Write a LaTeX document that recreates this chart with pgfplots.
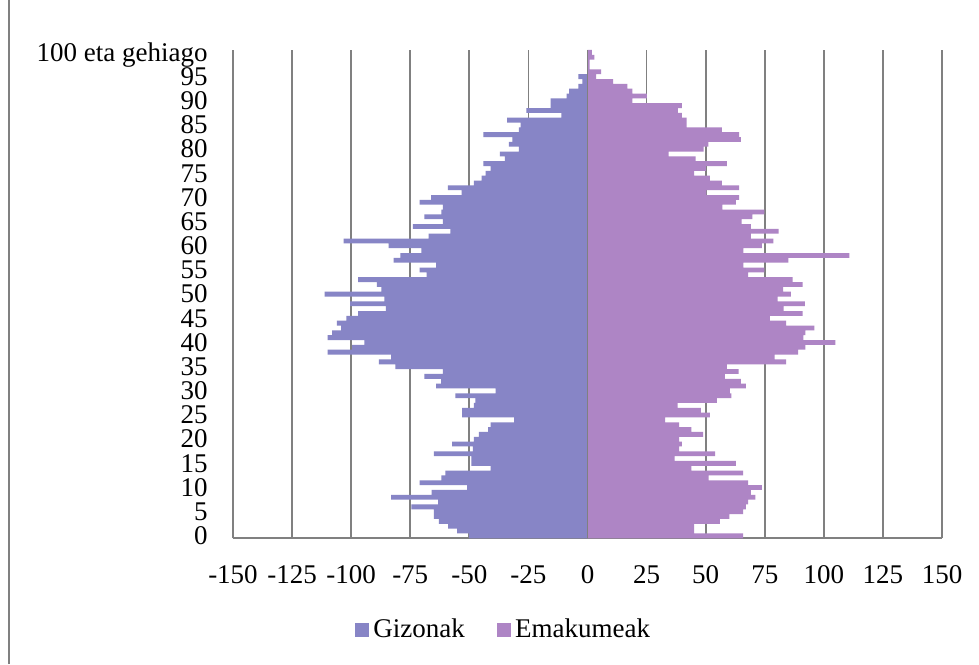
\documentclass[border=0pt]{standalone}
\usepackage{pgfplots}
\pgfplotsset{compat=1.18}
\usepackage{pgfplotstable}
\usepackage{fontspec}
\setmainfont{Liberation Serif}
\definecolor{gizon}{RGB}{135,133,198}
\definecolor{emak}{RGB}{174,133,197}
\definecolor{gridc}{RGB}{128,128,128}

\pgfplotstableread{
age gizonak emakumeak
0 -50.2 65.9
1 -55.2 45.1
2 -59.0 45.1
3 -62.9 56.0
4 -65.0 60.0
5 -65.0 65.9
6 -74.5 67.0
7 -63.2 68.0
8 -83.1 71.0
9 -66.0 69.1
10 -50.9 73.8
11 -71.0 68.0
12 -61.8 51.2
13 -60.1 65.9
14 -41.0 44.0
15 -49.1 62.8
16 -49.1 36.9
17 -65.0 54.0
18 -48.5 38.8
19 -57.3 39.9
20 -48.1 38.8
21 -46.0 48.9
22 -42.0 44.0
23 -41.0 38.8
24 -31.1 32.8
25 -53.0 51.8
26 -53.0 48.0
27 -48.1 38.1
28 -47.4 54.7
29 -55.9 60.9
30 -38.9 60.2
31 -64.1 67.0
32 -61.9 64.9
33 -69.0 58.1
34 -61.2 63.9
35 -81.3 59.0
36 -88.3 84.0
37 -83.1 79.2
38 -110.0 89.1
39 -99.6 92.2
40 -94.4 104.9
41 -110.0 91.3
42 -108.1 92.2
43 -104.2 96.0
44 -106.0 84.0
45 -102.0 77.2
46 -97.1 91.0
47 -85.3 83.0
48 -100.4 92.0
49 -85.9 80.4
50 -111.2 86.1
51 -87.2 82.8
52 -89.1 91.0
53 -97.1 86.8
54 -68.1 68.0
55 -71.0 74.8
56 -64.1 66.0
57 -82.0 85.0
58 -79.2 110.8
59 -70.3 66.0
60 -84.1 73.8
61 -103.2 78.7
62 -67.2 69.1
63 -58.0 80.9
64 -73.9 69.1
65 -61.2 65.2
66 -69.0 69.8
67 -61.8 74.8
68 -61.2 57.1
69 -71.0 62.8
70 -66.2 64.2
71 -53.3 50.3
72 -59.1 64.2
73 -48.1 56.9
74 -44.8 51.8
75 -43.1 45.1
76 -41.0 50.1
77 -44.1 59.0
78 -35.0 45.8
79 -37.1 34.3
80 -29.0 49.1
81 -33.3 51.1
82 -31.8 64.9
83 -44.1 64.2
84 -29.0 56.9
85 -28.3 41.9
86 -34.0 41.9
87 -11.1 39.9
88 -25.9 38.2
89 -15.6 39.9
90 -15.6 19.0
91 -8.8 25.1
92 -7.8 19.0
93 -3.9 16.9
94 -2.2 10.8
95 -3.9 3.7
96 0 5.8
97 0 0.9
98 0 0.9
99 0 2.9
100 0 1.8
}\pyramid

\begin{document}
\begin{tikzpicture}
\useasboundingbox (0,0) rectangle (489.5pt,332pt);
\fill[white] (0,0) rectangle (489.5pt,332pt);
\draw[gridc, line width=1pt] (4.5pt,0) -- (4.5pt,332pt);
\begin{axis}[
  at={(116.5pt,62.85pt)}, anchor=south west,
  scale only axis, width=354.5pt, height=244.15pt,
  xmin=-150, xmax=150, ymin=-0.5, ymax=100.5,
  axis x line*=bottom, axis y line*=left,
  x axis line style={gridc, line width=0.9pt, -},
  y axis line style={draw=none},
  major tick length=0pt,
  xtick={-150,-125,...,150},
  xticklabels={-150,-125,-100,-75,-50,-25,0,25,50,75,100,125,150},
  ytick={0,5,...,100},
  yticklabels={0,5,10,15,20,25,30,35,40,45,50,55,60,65,70,75,80,85,90,95,100 eta gehiago},
  xmajorgrids, grid style={gridc, line width=0.9pt},
  ticklabel style={font=\fontsize{13.5}{16}\selectfont},
  xticklabel style={anchor=base, inner sep=0pt, yshift=-22.5pt},
  yticklabel style={anchor=base east, inner sep=0pt, xshift=-12.5pt, yshift=-4.4pt},
  xbar, bar width=1, bar shift=0pt,
  legend style={at={(0.383,-0.188)}, anchor=center, draw=none, fill=none,
    legend columns=2, font=\fontsize{13.5}{16}\selectfont,
    /tikz/every even column/.append style={column sep=14pt}},
  legend image code/.code={\fill[#1] (0pt,-3.6pt) rectangle (7.2pt,3.6pt);},
]
\addplot[fill=gizon, draw=none] table[x=gizonak, y=age] {\pyramid};
\addlegendentry{Gizonak}
\addplot[fill=emak, draw=none] table[x=emakumeak, y=age] {\pyramid};
\addlegendentry{Emakumeak}
\draw[gridc, line width=0.9pt] (axis cs:0,-0.5) -- (axis cs:0,100.5);
\end{axis}
\end{tikzpicture}
\end{document}
